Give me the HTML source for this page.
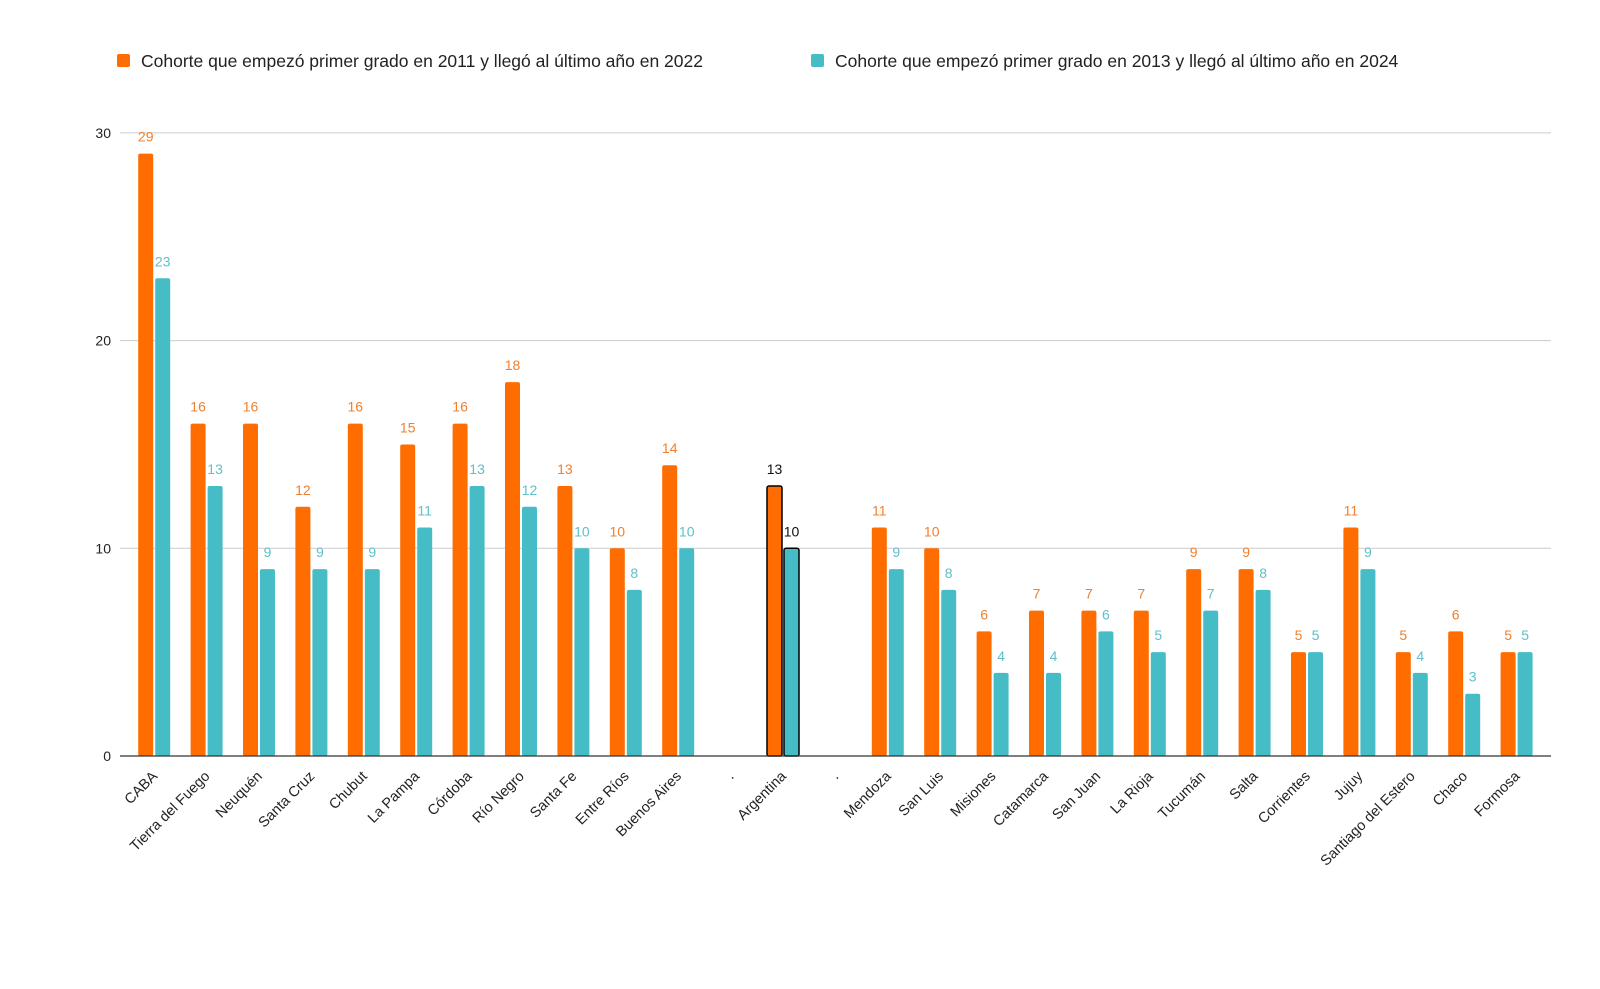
<!DOCTYPE html>
<html><head><meta charset="utf-8">
<style>
body{margin:0;background:#fff;}
svg{display:block;font-family:"Liberation Sans","DejaVu Sans",sans-serif;}
</style></head>
<body>
<svg id="chart" width="1600" height="989" viewBox="0 0 1600 989">
  <g>
    <rect x="117" y="54" width="13" height="13" rx="2" fill="#ff6d01"/>
    <text x="141" y="67" font-size="17.5" fill="#222">Cohorte que empezó primer grado en 2011 y llegó al último año en 2022</text>
    <rect x="811" y="54" width="13" height="13" rx="2" fill="#46bdc6"/>
    <text x="835" y="67" font-size="17.5" fill="#222">Cohorte que empezó primer grado en 2013 y llegó al último año en 2024</text>
  </g>
  <g id="grid"></g>
  <g id="bars"></g>
  <g id="xlabels"></g>
</svg>
<script>
const categories = ["CABA","Tierra del Fuego","Neuquén","Santa Cruz","Chubut","La Pampa","Córdoba","Río Negro","Santa Fe","Entre Ríos","Buenos Aires",".","Argentina",".","Mendoza","San Luis","Misiones","Catamarca","San Juan","La Rioja","Tucumán","Salta","Corrientes","Jujuy","Santiago del Estero","Chaco","Formosa"];
const cohort2022 = [29,16,16,12,16,15,16,18,13,10,14,null,13,null,11,10,6,7,7,7,9,9,5,11,5,6,5];
const cohort2024 = [23,13,9,9,9,11,13,12,10,8,10,null,10,null,9,8,4,4,6,5,7,8,5,9,4,3,5];
const yTicks = [0,10,20,30];
const highlight = "Argentina";

const NS = "http://www.w3.org/2000/svg";
const x0 = 128, bandW = 52.4, yBase = 756, unit = 20.77, xEnd = 1551, gridStart = 120;
const xScale = i => x0 + bandW * (i + 0.5);
const yScale = v => yBase - v * unit;
function mk(tag, attrs, parent) {
  const e = document.createElementNS(NS, tag);
  for (const k in attrs) e.setAttribute(k, attrs[k]);
  parent.appendChild(e);
  return e;
}
const grid = document.getElementById('grid');
yTicks.forEach(t => {
  if (t > 0) {
    const l = mk('line', {x1: gridStart, x2: xEnd, y1: yScale(t), y2: yScale(t), stroke: '#cccccc', 'stroke-width': 1}, grid);
    
    
  }
  const tx = mk('text', {x: 111, y: yScale(t) + 5, 'text-anchor': 'end', 'font-size': 14, fill: '#222'}, grid);
  tx.textContent = t;
  
  
});
const bars = document.getElementById('bars');
const series = [
  {vals: cohort2022, fill: '#ff6d01', label: '#f0802e', off: -16, name: '2022'},
  {vals: cohort2024, fill: '#46bdc6', label: '#5fbfca', off: 1, name: '2024'}
];
categories.forEach((c, i) => {
  series.forEach(s => {
    const v = s.vals[i];
    if (v === null || v === undefined) return;
    const hl = c === highlight;
    const bx = xScale(i) + s.off;
    const r = mk('rect', {x: bx, y: yScale(v), width: 15, height: yBase - yScale(v), rx: 2, fill: s.fill}, bars);
    if (hl) { r.setAttribute('stroke', '#000'); r.setAttribute('stroke-width', 1.5); }
    
    
    const t = mk('text', {x: bx + 7.5, y: yScale(v) - 12, 'text-anchor': 'middle', 'font-size': 14, fill: hl ? '#111' : s.label}, bars);
    t.textContent = v;
    
    
  });
});
const ax = mk('line', {x1: gridStart, x2: xEnd, y1: yBase, y2: yBase, stroke: '#333', 'stroke-width': 1.2}, bars);


const xl = document.getElementById('xlabels');
categories.forEach((c, i) => {
  const x = xScale(i) + 4, y = 777;
  const t = mk('text', {x: x, y: y, 'text-anchor': 'end', 'font-size': 14.5, fill: '#222', transform: `rotate(-45 ${x} ${y})`}, xl);
  t.textContent = c;
  
  
});
</script>
</body></html>
